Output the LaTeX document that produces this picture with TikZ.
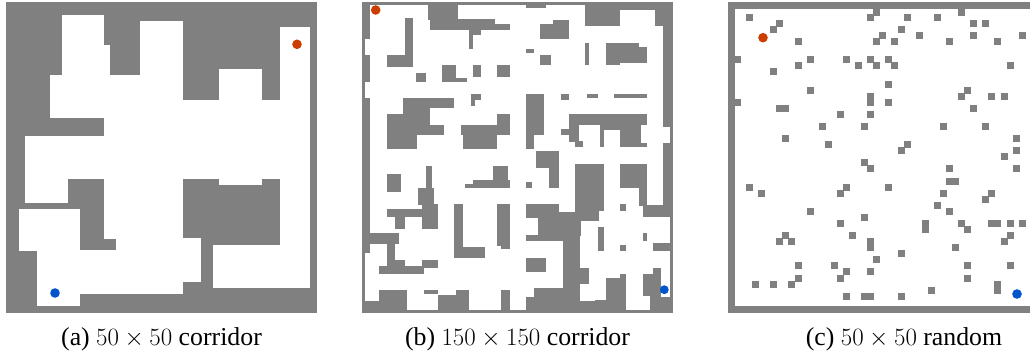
\documentclass[tikz,border=0pt]{standalone}
\usepackage{fontspec}
\setmainfont{Liberation Serif}
\definecolor{wallgray}{RGB}{128,128,128}
\definecolor{startred}{RGB}{204,62,0}
\definecolor{goalblue}{RGB}{0,84,204}
\begin{document}
\begin{tikzpicture}[x=1pt,y=-1pt,
  obst/.style={fill=wallgray,draw=wallgray,line width=0.3pt},
  free/.style={fill=white,draw=white,line width=0.3pt},
  startdot/.style={fill=startred},
  goaldot/.style={fill=goalblue},
  caption/.style={font=\fontsize{25.8}{30}\selectfont,anchor=base,inner sep=0pt}]
\useasboundingbox (0,0) rectangle (1030,358);
\fill[white] (0,0) rectangle (1030,358);

% ---------- (a) 50 x 50 corridor: gray block with carved free space ----------
\begin{scope}[scale=0.333333]
  \fill[obst] (18,6) rectangle (948,936);
  \foreach \a/\b/\c/\d in {
    186/45/309/225, 309/135/327/225, 420/63/546/300, 150/225/546/351,
    312/300/927/534, 840/81/927/860, 657/207/783/300, 75/408/927/534,
    75/534/201/606, 312/534/546/714, 657/534/783/552, 57/627/237/750,
    111/750/600/843, 111/843/546/879, 111/879/237/915, 348/714/600/750,
    639/735/927/860}
    \fill[free] (\a,\b) rectangle (\c,\d);
\end{scope}
\fill[startdot] (297,44.3) circle[radius=4.8];
\fill[goaldot] (55,293) circle[radius=4.8];

% ---------- (b) 150 x 150 corridor ----------
\fill[obst] (362,2) rectangle (672,312);
\fill[free] (365,5) rectangle (669,309);
\foreach \a/\b/\c/\d in {
  % thick parts of the outer wall
  365/5/369/37.7, 365/55/369/81, 365/98/369/252, 365/301/379/309,
  663/5/669/126, 663/143/669/216,
  % top rows
  428/5/457/19, 430/19/494/24, 430/24/509/29, 469/29/480/34, 469/34/472/48,
  526/5/545/7, 585/5/619/25, 619/5/655/9, 655/5/663/25,
  % upper left quarter
  405/18/412/66, 387/55/412/66, 416/73/425/81, 442/65/455/81, 455/78/466/81,
  473/65/480/76, 497/65/509/76, 471/94/480/99, 471/99/474/105,
  403/98/453/107, 403/107/429/114, 387/114/429/125, 387/125/443/134,
  387/134/416/148, 497/114/509/125, 461/125/509/134, 463/134/496/148,
  % upper right quarter
  553/20/568/24, 540/24/568/38, 526/49/533/52, 540/55/550/64, 585/43/588/64,
  606/43/638/47, 606/47/646/62, 606/62/619/64, 561/94/568/99, 587/94/597/97,
  614/94/646/97, 526/94/543/134, 526/134/533/148, 569/114/646/124,
  569/124/578/141, 561/129/569/134, 575/141/582/146, 600/124/620/129,
  600/129/603/146, 620/124/640/146, 640/143/646/146, 536/151/558/167,
  % lower right quarter
  549/167/558/187, 526/182/531/187, 575/164/603/210, 575/210/598/220,
  558/212/580/235, 526/204/558/217, 538/217/580/235, 620/164/646/187,
  639/187/646/205, 643/205/663/216, 620/204/625/210, 598/227/603/250,
  643/233/646/240, 620/245/625/250, 653/243/669/250, 526/235/564/240,
  563/235/579/309, 526/258/545/271, 578/268/588/283, 534/288/563/309,
  526/297/534/309, 575/301/625/309, 606/278/625/309, 620/274/625/278,
  643/274/660/295, 653/268/660/274, 650/297/669/309, 650/294/660/297,
  595/300/606/309,
  % lower left quarter
  369/233/398/243, 387/243/394/270, 379/266/423/273, 394/260/404/266,
  422/260/437/267, 387/174/400/191, 426/166/431/188, 418/188/433/204,
  422/204/437/228, 387/209/437/216, 395/216/404/228, 454/204/462/247,
  454/247/484/257, 497/204/509/245, 501/245/509/248, 493/166/507/180,
  473/180/509/184, 465/184/509/187, 379/290/406/309, 424/290/437/293,
  438/295/468/309, 456/290/468/295, 501/290/509/309}
  \fill[obst] (\a,\b) rectangle (\c,\d);
\fill[startdot] (375.7,10) circle[radius=4.8];
\fill[goaldot] (664.3,289.7) circle[radius=4.4];

% ---------- (c) 50 x 50 random ----------
\fill[obst] (728,2) rectangle (1038,312);
\fill[free] (735,9) rectangle (1031,305);
% single cells
\foreach \x/\y in {
  873/9, 958/9, 746/14, 867/14, 904/14, 934/14, 776/20, 970/20, 982/20,
  770/26, 898/26, 879/32, 916/32, 970/32, 1019/32, 795/38, 873/38, 891/38,
  946/38, 994/38, 734/56, 807/56, 843/56, 867/56, 885/56, 795/62, 855/62,
  873/62, 891/62, 1007/62, 770/68, 885/81, 807/87, 964/87, 958/93, 988/93,
  1001/93, 734/99, 885/99, 970/105, 837/111, 867/111, 819/123, 861/123,
  940/123, 982/123, 782/135, 1013/135, 825/141, 904/141, 898/147, 1013/147,
  1001/153, 861/159, 867/165, 946/165, 1013/165, 746/184, 843/184, 885/184,
  758/190, 837/190, 940/190, 988/190, 982/196, 934/202, 807/208, 946/208,
  861/214, 837/220, 958/220, 1007/220, 1019/220, 964/226, 782/232, 849/232,
  1007/232, 776/238, 788/238, 1001/238, 952/244, 898/250, 873/256, 795/262,
  831/262, 964/262, 1007/262, 843/268, 867/268, 795/275, 837/275, 964/275,
  752/281, 770/281, 788/281, 928/287, 843/293, 898/293}
  \fill[obst] (\x,\y) rectangle ++(6.2,6.2);
% two cells side by side
\foreach \x/\y in {776/105, 946/178, 988/220, 861/293}
  \fill[obst] (\x,\y) rectangle ++(12.4,6.2);
% two cells stacked
\foreach \x/\y in {867/93, 922/220, 867/238, 994/281}
  \fill[obst] (\x,\y) rectangle ++(6.2,12.4);
\fill[startdot] (763,37.7) circle[radius=4.8];
\fill[goaldot] (1017,294) circle[radius=4.8];

% ---------- captions ----------
\node[caption] (capa) at (161.5,345) {(a) $50\times50$ corridor};
\node[caption] (capb) at (517.5,345) {(b) $150\times150$ corridor};
\node[caption] (capc) at (904,345) {(c) $50\times50$ random};
\end{tikzpicture}
\end{document}
